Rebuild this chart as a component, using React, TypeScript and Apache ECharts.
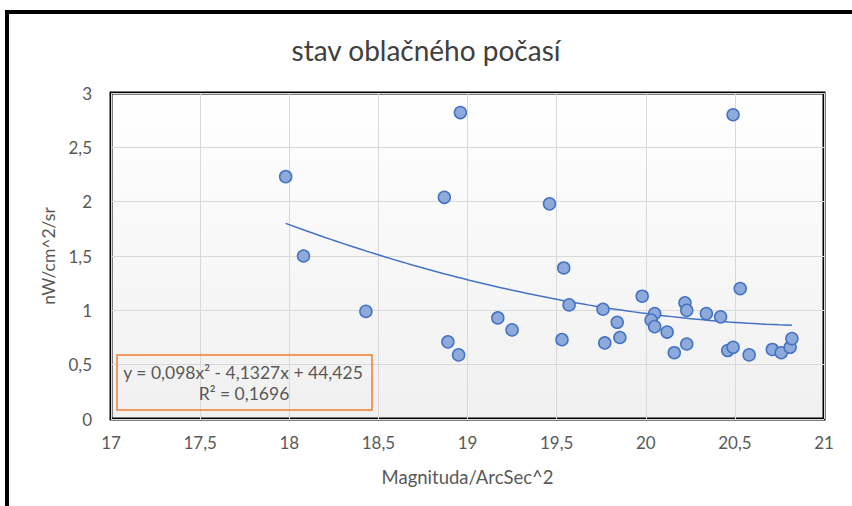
import React, { useEffect, useRef } from "react";
import * as echarts from "echarts";

const titleText = "stav oblačného počasí";
const xAxisName = "Magnituda/ArcSec^2";
const yAxisName = "nW/cm^2/sr";

const magnitudes = [
  17.98, 18.08, 18.43, 18.87, 18.96, 18.89, 18.95, 19.17, 19.25, 19.46,
  19.54, 19.53, 19.57, 19.76, 19.84, 19.77, 19.855, 19.98, 20.05, 20.03,
  20.05, 20.12, 20.16, 20.22, 20.23, 20.23, 20.34, 20.42, 20.49, 20.53,
  20.46, 20.49, 20.58, 20.71, 20.76, 20.81, 20.82,
];
const radiances = [
  2.23, 1.5, 0.99, 2.04, 2.82, 0.71, 0.59, 0.93, 0.82, 1.98,
  1.39, 0.73, 1.05, 1.01, 0.89, 0.7, 0.75, 1.13, 0.97, 0.91,
  0.85, 0.8, 0.61, 1.07, 1.0, 0.69, 0.97, 0.94, 2.8, 1.2,
  0.63, 0.66, 0.59, 0.64, 0.61, 0.66, 0.74,
];

// displayed polynomial trendline: y = a x^2 + b x + c
const trendCoefficients = [0.098, -4.1327, 44.425];
const trendRange = [17.98, 20.82];
const equationLines = ["y = 0,098x² - 4,1327x + 44,425", "R² = 0,1696"];

const FONT = "Lato, 'Noto Sans', sans-serif";
const GRAY = "#595959";

export default function App() {
  const ref = useRef<HTMLDivElement>(null);
  useEffect(() => {
    if (!ref.current) return;
    const chart = echarts.init(ref.current, undefined, { renderer: "svg" });
    const [a, b, c] = trendCoefficients;
    const trend: number[][] = [];
    const steps = 40;
    for (let i = 0; i <= steps; i++) {
      const x = trendRange[0] + ((trendRange[1] - trendRange[0]) * i) / steps;
      trend.push([x, a * x * x + b * x + c]);
    }
    const fmt = (v: number) => String(v).replace(".", ",");
    chart.setOption({
      animation: false,
      backgroundColor: "#fff",
      title: {
        text: titleText,
        left: "center",
        top: 31,
        textStyle: { fontFamily: FONT, fontSize: 28, fontWeight: "normal", color: "#404040" },
      },
      grid: {
        left: 111,
        top: 93,
        right: 28,
        bottom: 87,
        show: true,
        borderColor: "#000",
        borderWidth: 3,
        backgroundColor: new echarts.graphic.LinearGradient(0, 0, 0, 1, [
          { offset: 0, color: "#ffffff" },
          { offset: 1, color: "#f0f0f0" },
        ]),
      },
      xAxis: {
        type: "value",
        min: 17,
        max: 21,
        interval: 0.5,
        name: xAxisName,
        nameLocation: "middle",
        nameGap: 48,
        nameTextStyle: { fontFamily: FONT, fontSize: 18.5, color: GRAY },
        axisLine: { show: false },
        axisTick: { show: false },
        axisLabel: { fontFamily: FONT, fontSize: 17, color: GRAY, margin: 15, formatter: fmt },
        splitLine: { show: true, lineStyle: { color: "#d9d9d9", width: 1 } },
      },
      yAxis: {
        type: "value",
        min: 0,
        max: 3,
        interval: 0.5,
        name: yAxisName,
        nameLocation: "middle",
        nameGap: 52,
        nameTextStyle: { fontFamily: FONT, fontSize: 17.5, color: GRAY },
        axisLine: { show: false },
        axisTick: { show: false },
        axisLabel: { fontFamily: FONT, fontSize: 17, color: GRAY, margin: 19, formatter: fmt },
        splitLine: { show: true, lineStyle: { color: "#d9d9d9", width: 1 } },
      },
      series: [
        {
          type: "line",
          data: trend,
          showSymbol: false,
          smooth: true,
          lineStyle: { color: "#4472c4", width: 1.5 },
          z: 3,
        },
        {
          type: "scatter",
          data: magnitudes.map((m, i) => [m, radiances[i]]),
          symbol: "circle",
          symbolSize: 12,
          itemStyle: { color: "#8eaadb", borderColor: "#4472c4", borderWidth: 1.5, opacity: 1 },
          z: 4,
        },
      ],
      graphic: [
        {
          type: "rect",
          shape: { x: 7, y: 12, width: 900, height: 600 },
          style: { fill: "none", stroke: "#000", lineWidth: 4 },
          silent: true,
          z: 100,
        },
        {
          type: "rect",
          shape: { x: 117, y: 355, width: 255, height: 55 },
          style: { fill: "none", stroke: "#ed7d31", lineWidth: 1.5 },
          z: 100,
        },
        {
          type: "text",
          x: 243,
          y: 372,
          style: {
            text: equationLines[0],
            fontFamily: FONT,
            fontSize: 17.5,
            fill: GRAY,
            textAlign: "center",
            textVerticalAlign: "middle",
          },
          z: 100,
        },
        {
          type: "text",
          x: 244,
          y: 393,
          style: {
            text: equationLines[1],
            fontFamily: FONT,
            fontSize: 17.5,
            fill: GRAY,
            textAlign: "center",
            textVerticalAlign: "middle",
          },
          z: 100,
        },
      ],
    });
    return () => chart.dispose();
  }, []);
  return (
    <div
      ref={ref}
      style={{ position: "fixed", left: 0, top: 0, width: 852, height: 506 }}
    />
  );
}
